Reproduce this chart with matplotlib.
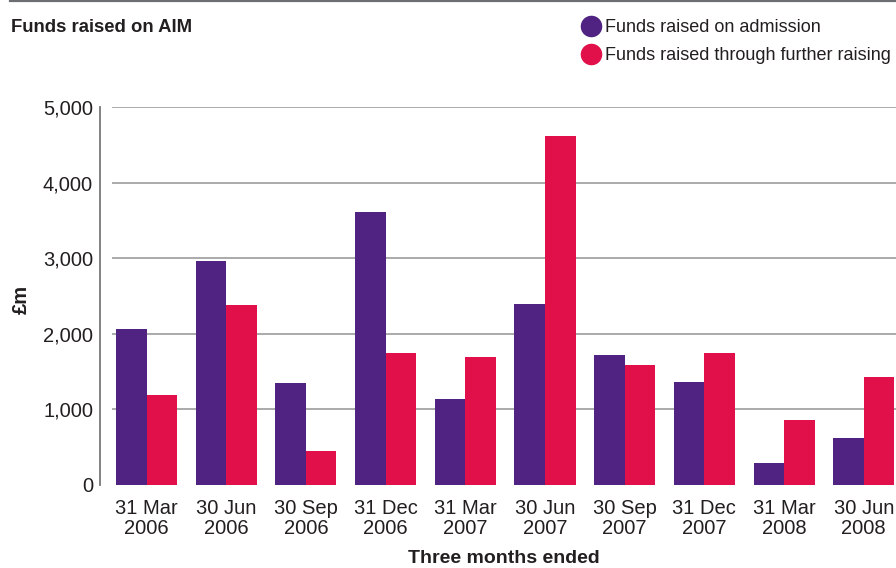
import matplotlib.pyplot as plt
import numpy as np
from matplotlib.lines import Line2D

plt.rcParams['font.family'] = ['Liberation Sans', 'DejaVu Sans']

# data (GBP millions)
quarters = ["31 Mar\n2006", "30 Jun\n2006", "30 Sep\n2006", "31 Dec\n2006",
            "31 Mar\n2007", "30 Jun\n2007", "30 Sep\n2007", "31 Dec\n2007",
            "31 Mar\n2008", "30 Jun\n2008"]
admission = [2065, 2965, 1350, 3615, 1140, 2395, 1720, 1365, 290, 620]
further = [1190, 2385, 450, 1750, 1695, 4615, 1590, 1750, 860, 1430]

purple = '#502382'
red = '#e1104a'
txt = '#231f20'

fig = plt.figure(figsize=(8.96, 5.68), dpi=100)
ax = fig.add_axes([112/896, 1 - 485/568, 784/896, 378/568])

x = np.arange(len(quarters))
w = 0.383
ax.bar(x - w/2, admission, w, color=purple, zorder=3)
ax.bar(x + w/2, further, w, color=red, zorder=3)

ax.set_xlim(-0.433, 9.404)
ax.set_ylim(0, 5000)
ax.set_yticks(range(0, 5001, 1000))
ax.set_yticklabels([f"{v:,}" for v in range(0, 5001, 1000)])
ax.set_xticks(x)
ax.set_xticklabels(quarters, linespacing=1.05)

for v in range(1000, 5001, 1000):
    ax.axhline(v, color='#aaaaaa', lw=1.4, zorder=1)

for s in ['top', 'right', 'bottom']:
    ax.spines[s].set_visible(False)
ax.spines['left'].set_position(('outward', 12 * 72 / 100))
ax.spines['left'].set_color('#777777')
ax.spines['left'].set_linewidth(1.3)
ax.tick_params(axis='both', length=0, labelsize=14.5, colors=txt)
ax.tick_params(axis='y', pad=5)
ax.tick_params(axis='x', pad=10)

ax.set_xlabel("Three months ended", fontsize=14, fontweight='bold', color=txt, labelpad=9)
fig.text(21/896, 1 - 299/568, "£m", rotation=90, fontsize=14.5, fontweight='bold',
         color=txt, ha='center', va='center')

fig.text(11/896, 1 - 28/568, "Funds raised on AIM", fontsize=13.3, fontweight='bold',
         color=txt, ha='left', va='center')

fig.add_artist(Line2D([10/896, 1], [1 - 1/568, 1 - 1/568], color='#6d6e71', lw=1.6))

handles = [Line2D([], [], marker='o', ls='', color=purple, markersize=14.5),
           Line2D([], [], marker='o', ls='', color=red, markersize=14.5)]
fig.legend(handles, ["Funds raised on admission", "Funds raised through further raising"],
           loc='center left', bbox_to_anchor=(582/896, 1 - 41.5/568), frameon=False,
           fontsize=13, handlelength=1.0, handletextpad=0.3, labelspacing=0.6,
           borderpad=0, borderaxespad=0, labelcolor=txt)

fig.savefig('out.png', dpi=100)
